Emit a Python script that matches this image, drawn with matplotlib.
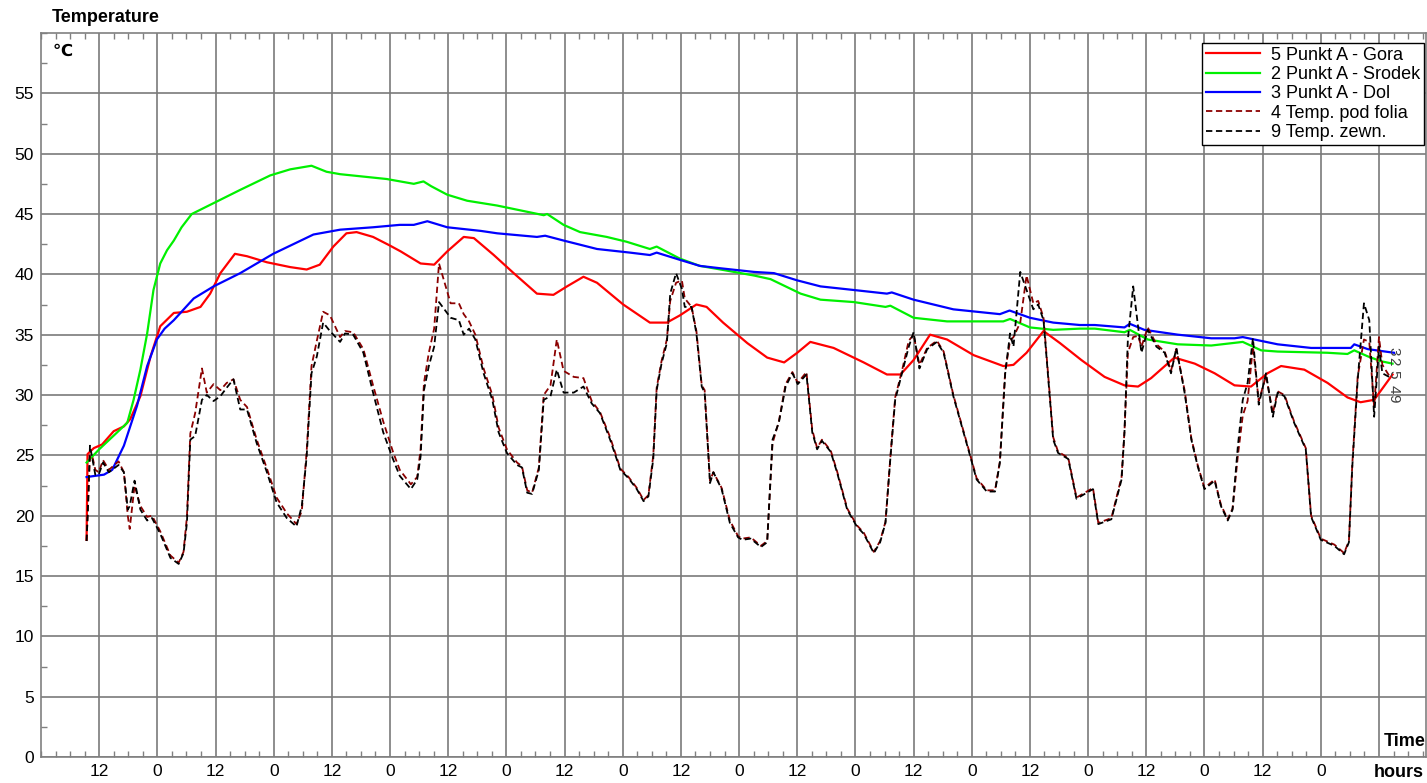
import numpy as np
import matplotlib
matplotlib.use("Agg")
import matplotlib.pyplot as plt
from matplotlib.ticker import MultipleLocator, FixedLocator

plt.rcParams['font.family'] = ['Liberation Sans', 'DejaVu Sans']

# --- data (hours since start, temperature in C) ---
gora_h = [9.4, 9.6, 10.9, 12.6, 15.0, 17.1, 18.4, 20.5, 22.6, 24.6, 27.4, 30.1, 32.9, 34.9, 37.0,
          40.0, 42.5, 46.6, 51.4, 54.8, 57.5, 60.3, 63.0, 65.1, 68.5, 71.9, 74.2, 78.3, 81.1, 83.8,
          87.2, 89.3, 93.4, 97.5, 102.3, 105.7, 108.5, 111.9, 114.7, 120.1, 125.6, 129.1, 131.8,
          135.2, 137.3, 140.7, 145.7, 149.8, 153.3, 156.0, 158.7, 163.5, 169.7, 174.5, 177.3, 180.0,
          183.4, 186.9, 192.4, 198.5, 200.6, 203.3, 206.8, 210.2, 214.6, 219.4, 223.5, 226.3, 229.0,
          233.8, 238.0, 242.1, 246.2, 249.6, 253.0, 255.8, 260.6, 265.4, 269.5, 272.2, 275.0, 277.0,
          278.8]
gora_t = [18.0, 25.1, 25.6, 25.9, 27.0, 27.4, 28.0, 29.9, 33.2, 35.7, 36.8, 36.9, 37.3, 38.4, 40.1,
          41.7, 41.5, 41.0, 40.6, 40.4, 40.8, 42.3, 43.4, 43.5, 43.1, 42.4, 41.9, 40.9, 40.8, 41.9,
          43.1, 43.0, 41.6, 40.1, 38.4, 38.3, 39.0, 39.8, 39.3, 37.5, 36.0, 36.0, 36.6,
          37.5, 37.3, 36.0, 34.3, 33.1, 32.7, 33.5, 34.4, 33.9, 32.7, 31.7, 31.7, 32.9,
          35.0, 34.6, 33.3, 32.4, 32.5, 33.5, 35.3, 34.3, 32.9, 31.5, 30.8, 30.7, 31.4,
          33.1, 32.6, 31.8, 30.8, 30.7, 31.8, 32.4, 32.1, 31.0, 29.8, 29.4, 29.6, 30.7,
          31.7]

srodek_h = [9.4, 12.0, 15.7, 17.8, 19.1, 20.5, 21.9, 23.2, 24.6, 26.0, 27.4, 29.0, 31.1, 35.6, 41.1,
            47.3, 51.4, 55.8, 58.9, 61.7, 66.5, 71.3, 76.9, 78.9, 80.5, 83.8, 87.9, 94.1, 98.9,
            103.7, 104.4, 107.8, 111.2, 116.7, 120.8, 125.6, 127.0, 131.8, 135.9, 140.2, 147.1,
            150.5, 156.7, 160.8, 167.7, 174.2, 175.2, 180.0, 186.9, 198.5, 199.9, 204.0, 208.8,
            214.3, 217.4, 223.5, 224.6, 228.3, 234.5, 241.4, 247.9, 251.7, 255.1, 265.4, 269.5,
            270.9, 273.7, 276.4, 278.8]
srodek_t = [24.4, 25.5, 26.9, 27.7, 29.6, 32.1, 35.1, 38.7, 40.9, 42.0, 42.8, 43.9, 45.0, 45.9, 47.0,
            48.2, 48.7, 49.0, 48.5, 48.3, 48.1, 47.9, 47.5, 47.7, 47.3, 46.6, 46.1, 45.7, 45.3,
            44.9, 45.0, 44.1, 43.5, 43.1, 42.7, 42.1, 42.3, 41.3, 40.7, 40.4, 39.9,
            39.6, 38.4, 37.9, 37.7, 37.3, 37.4, 36.4, 36.1, 36.1, 36.3, 35.6, 35.4,
            35.5, 35.5, 35.2, 35.4, 34.6, 34.2, 34.1, 34.4, 33.7, 33.6, 33.5, 33.4,
            33.7, 33.2, 32.8, 32.6]

dol_h = [9.4, 13.0, 14.7, 17.1, 19.8, 21.9, 23.9, 25.5, 27.4, 31.5, 35.6, 41.1, 47.9, 56.2, 61.7,
         68.5, 74.0, 76.9, 79.7, 83.8, 90.7, 94.1, 102.3, 104.0, 107.8, 114.7, 121.5, 125.6, 127.0,
         131.8, 135.9, 140.2, 147.1, 151.2, 156.0, 160.8, 167.7, 174.5, 175.5, 180.0, 188.2, 197.8,
         199.8, 204.0, 208.8, 214.3, 217.4, 223.5, 224.6, 227.6, 234.5, 241.4, 246.2, 247.9, 250.3,
         255.1, 262.0, 270.2, 270.9, 273.7, 279.1]
dol_t = [23.2, 23.4, 23.8, 25.8, 29.1, 32.4, 34.6, 35.5, 36.2, 38.0, 39.0, 40.1, 41.7, 43.3, 43.7,
         43.9, 44.1, 44.1, 44.4, 43.9, 43.6, 43.4, 43.1, 43.2, 42.8, 42.1, 41.8, 41.6, 41.8,
         41.2, 40.7, 40.5, 40.2, 40.1, 39.5, 39.0, 38.7, 38.4, 38.5, 37.9, 37.1, 36.7,
         37.0, 36.4, 36.0, 35.8, 35.8, 35.6, 35.9, 35.4, 35.0, 34.7, 34.7, 34.8, 34.6,
         34.2, 33.9, 33.9, 34.2, 33.8, 33.5]

zewn_h = [9.4, 9.7, 10.1, 10.6, 11.2, 11.9, 12.8, 14.0, 16.0, 17.1, 17.9, 18.3, 19.3, 20.5, 21.9,
          22.9, 24.6, 26.7, 28.4, 29.4, 30.1, 30.8, 31.8, 33.2, 34.2, 35.6, 37.0, 38.3, 39.7, 41.1,
          42.5, 44.5, 46.6, 48.6, 50.7, 52.7, 53.8, 54.8, 55.8, 56.9, 58.2, 59.6, 61.7, 62.7, 64.4,
          66.5, 68.5, 70.6, 72.6, 74.0, 76.3, 77.6, 78.3, 79.0, 80.0, 81.1, 82.1, 84.5, 86.2, 87.2,
          88.3, 89.6, 91.3, 93.1, 94.4, 96.1, 98.2, 99.2, 100.3, 101.3, 102.7, 103.7, 105.1, 106.4,
          107.8, 109.9, 111.9, 113.6, 115.3, 117.4, 119.5, 121.2, 122.9, 124.3, 125.3, 126.3, 127.0,
          128.0, 129.1, 129.8, 131.0, 132.2, 132.8, 134.2, 135.2, 136.3, 136.9, 138.0, 138.7, 140.4,
          142.1, 143.8, 144.7, 146.4, 148.5, 149.8, 150.9, 152.2, 153.6, 155.0, 156.1, 157.9, 159.1,
          160.1, 161.1, 162.9, 164.2, 166.3, 168.3, 169.7, 171.8, 173.1, 174.2, 175.2, 176.2, 177.6,
          179.0, 180.0, 181.2, 182.8, 184.8, 186.2, 188.2, 190.3, 191.7, 193.0, 195.1, 196.8, 197.8,
          198.9, 199.9, 200.6, 202.0, 203.3, 204.7, 205.7, 206.8, 207.8, 208.8, 209.8, 211.9, 213.6,
          217.0, 218.1, 220.8, 222.9, 223.5, 224.2, 225.3, 226.3, 227.0, 228.3, 230.1, 231.8, 233.1,
          234.2, 235.9, 237.3, 238.6, 240.0, 242.1, 243.4, 244.8, 245.8, 246.9, 247.9, 248.9, 250.0,
          251.2, 252.7, 254.1, 255.1, 256.5, 258.5, 260.9, 262.0, 264.0, 266.8, 268.8, 269.8, 270.5,
          271.6, 272.9, 274.0, 275.0, 276.0, 276.7, 278.1]
zewn_t = [17.9, 20.8, 25.8, 24.7, 23.4, 23.4, 24.4, 23.6, 24.2, 23.6, 20.5, 20.8, 22.9, 20.5, 19.6,
          19.8, 18.5, 16.5, 16.0, 16.9, 19.4, 26.3, 26.6, 29.6, 30.0, 29.5, 29.9, 30.6, 31.3, 28.8,
          28.8, 26.0, 23.6, 21.1, 19.8, 19.1, 20.8, 24.9, 31.8, 33.2, 36.0, 35.3, 34.4, 35.1, 35.0,
          33.5, 30.2, 26.9, 24.7, 23.3, 22.2, 23.0, 24.9, 30.4, 32.4, 34.0, 37.7, 36.4, 36.2, 35.0,
          35.5, 34.6, 31.8, 29.6, 26.9, 25.2, 24.2, 24.0, 21.9, 21.8, 23.8, 29.6, 29.9, 32.1,
          30.2, 30.2, 30.7, 29.3, 28.5, 26.3, 23.8, 23.1, 22.2, 21.2, 21.6, 24.7, 30.4,
          32.6, 34.3, 38.4, 40.1, 38.8, 37.3, 37.3, 35.1, 30.7, 30.2, 22.7, 23.6, 22.2,
          19.4, 18.2, 18.0, 18.1, 17.4, 17.8, 26.3, 27.7, 30.7, 31.8, 30.9, 31.7, 26.9,
          25.5, 26.2, 25.3, 23.6, 20.5, 19.1, 18.5, 16.9, 17.8, 19.4, 24.7, 29.6, 31.8,
          34.0, 35.2, 32.2, 33.8, 34.4, 33.5, 29.9, 26.9, 24.9, 23.0, 22.0, 22.0, 24.4,
          31.8, 35.1, 34.0, 40.2, 38.7, 37.1, 37.5, 36.2, 31.3, 26.3, 25.2, 24.7, 21.4,
          22.2, 19.3, 19.7, 23.0, 26.9, 34.6, 39.0, 35.7, 33.5, 35.4, 34.0, 33.5, 31.8,
          33.9, 30.2, 26.3, 24.1, 22.2, 22.9, 20.8, 19.6, 20.5, 25.8, 29.6, 31.0, 34.7,
          29.2, 31.8, 28.2, 30.2, 29.9, 27.7, 25.5, 19.9, 18.0, 17.5, 16.8, 17.8, 24.1,
          31.2, 37.6, 36.2, 28.2, 34.0, 31.8, 31.5]

folia_h = zewn_h
folia_t = [17.9, 20.8, 25.0, 24.9, 23.8, 23.6, 24.6, 23.8, 24.5, 23.6, 20.0, 18.9, 22.5, 20.8, 19.9,
           20.0, 18.7, 16.7, 16.1, 17.0, 19.9, 26.8, 28.5, 32.2, 30.2, 30.9, 30.4, 31.0, 31.3, 29.6,
           29.0, 26.3, 23.9, 21.5, 20.2, 19.3, 20.4, 25.3, 32.4, 34.5, 36.9, 36.6, 34.8, 35.3, 35.2,
           33.8, 30.8, 27.8, 25.3, 23.8, 22.6, 23.2, 25.5, 31.0, 33.5, 35.5, 40.9, 37.6, 37.6, 36.7,
           36.1, 35.0, 32.2, 30.0, 27.3, 25.5, 24.4, 24.1, 22.1, 21.9, 24.0, 30.0, 30.8, 34.6,
           32.0, 31.5, 31.4, 29.5, 28.6, 26.5, 23.9, 23.2, 22.3, 21.3, 21.7, 25.0, 30.6,
           32.8, 34.6, 37.8, 39.3, 39.5, 38.0, 37.3, 35.3, 30.8, 30.4, 22.9, 23.6, 22.3,
           19.6, 18.3, 18.1, 18.2, 17.5, 17.9, 26.0, 27.8, 30.9, 31.9, 31.0, 31.9, 27.1,
           25.6, 26.3, 25.4, 23.7, 20.6, 19.2, 18.6, 17.0, 17.9, 19.5, 24.8, 29.8, 32.0,
           34.5, 35.0, 32.5, 33.9, 34.5, 33.6, 30.0, 27.0, 25.0, 23.1, 22.1, 22.1, 24.5,
           32.0, 34.5, 34.8, 36.0, 39.9, 37.6, 37.8, 36.4, 31.5, 26.5, 25.3, 24.8, 21.5,
           22.3, 19.4, 19.8, 23.2, 27.0, 33.5, 34.8, 34.9, 34.0, 35.6, 34.2, 33.6, 32.0,
           33.8, 30.4, 26.4, 24.2, 22.3, 23.0, 20.9, 19.7, 20.6, 25.0, 28.3, 29.5, 34.0,
           29.5, 31.6, 28.5, 30.3, 30.0, 27.8, 25.6, 20.0, 18.1, 17.6, 16.9, 17.9, 24.3,
           31.5, 34.6, 34.4, 29.0, 34.8, 32.5, 31.6]

series = [
    (gora_h, gora_t, "5 Punkt A - Gora", "#ff0000", "-", 1.6),
    (srodek_h, srodek_t, "2 Punkt A - Srodek", "#00f000", "-", 1.6),
    (dol_h, dol_t, "3 Punkt A - Dol", "#0000ff", "-", 1.6),
    (folia_h, folia_t, "4 Temp. pod folia", "#8b0000", "--", 1.3),
    (zewn_h, zewn_t, "9 Temp. zewn.", "#000000", "--", 1.3),
]

end_labels = ["3", "2", "5", "4", "9"]
end_label_t = [33.6, 32.8, 31.7, 30.5, 29.7]

major_hours = np.arange(12, 277, 12)
x_labels = ["12" if h % 24 == 12 else "0" for h in major_hours]
x_labels[-1] = ""

fig = plt.figure(figsize=(14.27, 7.83), dpi=100)
ax = fig.add_axes([41 / 1427, 1 - 757 / 783, 1385 / 1427, (757 - 33) / 783])

for h, t, name, col, ls, lw in series:
    ax.plot(h, t, color=col, linestyle=ls, linewidth=lw, label=name,
            dashes=(3.5, 2) if ls == "--" else (None, None))

for lab, t in zip(end_labels, end_label_t):
    ax.text(279.0, t, lab, rotation=270, fontsize=11, ha="center", va="center", color="#404040")

ax.set_xlim(0, 285.7)
ax.set_ylim(0, 60)
ax.xaxis.set_major_locator(FixedLocator(major_hours))
ax.set_xticklabels(x_labels)
ax.xaxis.set_minor_locator(MultipleLocator(3))
ax.yaxis.set_major_locator(FixedLocator(np.arange(0, 56, 5)))
ax.yaxis.set_minor_locator(MultipleLocator(2.5))
ax.tick_params(which="both", direction="in", colors="#808080", labelcolor="black",
               labelsize=12.5, top=True, right=False)
ax.tick_params(which="major", length=0, pad=5)
ax.tick_params(which="minor", length=4, width=1)
ax.grid(True, which="major", color="#7a7a7a", linewidth=1.2)
for s in ax.spines.values():
    s.set_color("#808080")
    s.set_linewidth(1.2)

ax.text(0.008, 1.022, "Temperature", transform=ax.transAxes, fontsize=13, fontweight="bold",
        ha="left", va="center")
ax.text(0.008, 0.985, "\u2103", transform=ax.transAxes, fontsize=12, fontweight="bold",
        ha="left", va="top")
ax.text(0.9995, 0.022, "Time", transform=ax.transAxes, fontsize=13, fontweight="bold",
        ha="right", va="center")
ax.text(0.9985, -0.021, "hours", transform=ax.transAxes, fontsize=13, fontweight="bold",
        ha="right", va="center")

leg = ax.legend(loc="upper right", bbox_to_anchor=(0.9985, 0.986), fontsize=13, frameon=True,
                fancybox=False, framealpha=1, edgecolor="black", borderpad=0.2,
                labelspacing=0.13, handlelength=3.0, handletextpad=0.6, borderaxespad=0)
leg.get_frame().set_linewidth(1.0)

fig.savefig("out.png", dpi=100)
